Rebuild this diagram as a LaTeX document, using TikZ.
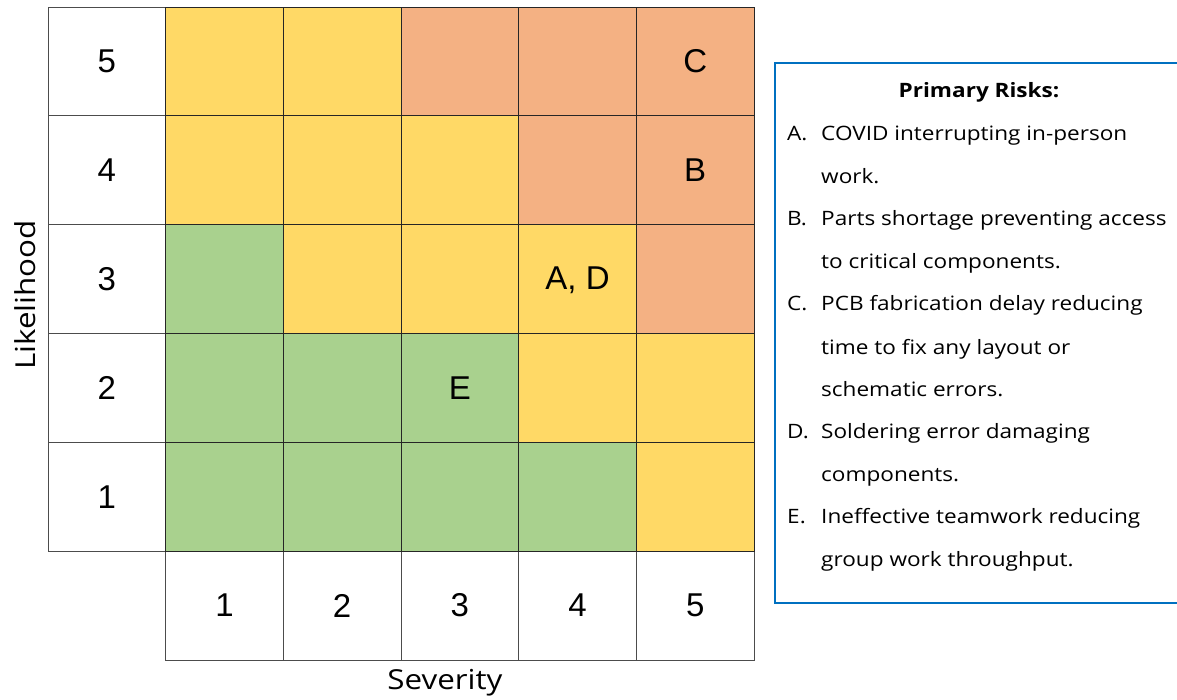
\documentclass[tikz,border=0pt]{standalone}
\usepackage{fontspec}
\setmainfont{Liberation Sans}
\newfontfamily\plex[FakeStretch=1.14]{Open Sans}
\definecolor{ryel}{HTML}{FFD966}
\definecolor{rorg}{HTML}{F4B183}
\definecolor{rgrn}{HTML}{A9D18E}
\definecolor{rblue}{HTML}{0070C0}
\begin{document}
\begin{tikzpicture}[x=1pt,y=-1pt,
  cell/.style={draw=black!85,line width=0.8pt,minimum width=117.67pt,minimum height=108.83pt,inner sep=0pt,font=\fontsize{33}{36}\selectfont},
  hdr/.style={cell,draw=black!70,fill=white},
  yl/.style={cell,fill=ryel},
  og/.style={cell,fill=rorg},
  gr/.style={cell,fill=rgrn},
  axis/.style={font=\plex\fontsize{27.5}{30}\selectfont,inner sep=0pt},
  item/.style={anchor=base west,inner sep=0pt,font=\plex\fontsize{19.8}{22}\selectfont},
]
\useasboundingbox (0,0) rectangle (1177,700);
% likelihood header column
\foreach \r/\lab in {0/5,1/4,2/3,3/2,4/1}{
  \node[hdr] (L\lab) at ({48+58.83},{7+108.83*\r+54.42}) {\lab};
}
% severity header row
\foreach \c in {1,...,5}{
  \node[hdr] (S\c) at ({48+117.67*\c+58.83},{7+108.83*5+54.42}) {\c};
}
% matrix cells
\foreach \c/\s in {1/yl,2/yl,3/og,4/og,5/og}{
  \node[\s] (m5\c) at ({48+117.67*\c+58.83},{7+54.42}) {};}
\foreach \c/\s in {1/yl,2/yl,3/yl,4/og,5/og}{
  \node[\s] (m4\c) at ({48+117.67*\c+58.83},{7+108.83+54.42}) {};}
\foreach \c/\s in {1/gr,2/yl,3/yl,4/yl,5/og}{
  \node[\s] (m3\c) at ({48+117.67*\c+58.83},{7+108.83*2+54.42}) {};}
\foreach \c/\s in {1/gr,2/gr,3/gr,4/yl,5/yl}{
  \node[\s] (m2\c) at ({48+117.67*\c+58.83},{7+108.83*3+54.42}) {};}
\foreach \c/\s in {1/gr,2/gr,3/gr,4/gr,5/yl}{
  \node[\s] (m1\c) at ({48+117.67*\c+58.83},{7+108.83*4+54.42}) {};}
% risk letters
\node[font=\fontsize{33}{36}\selectfont] (tC) at (m55) {C};
\node[font=\fontsize{33}{36}\selectfont] (tB) at (m45) {B};
\node[font=\fontsize{33}{36}\selectfont] (tAD) at ([yshift=-1pt]m34) {A, D};
\node[font=\fontsize{33}{36}\selectfont] (tE) at (m23) {E};
% axis labels
\node[axis,rotate=90] (ylab) at (25,295) {Likelihood};
\node[axis] (xlab) at (445,683) {Severity};
% legend box
\draw[rblue,line width=1.6pt] (1180,63) -- (775,63) -- (775,603) -- (1180,603);
\node[anchor=base,inner sep=0pt,font=\plex\bfseries\fontsize{19.8}{22}\selectfont] (title) at (979,98) {Primary Risks:};
\foreach \y/\l/\t [count=\i] in {
  141/A./COVID interrupting in-person,
  184//work.,
  226/B./Parts shortage preventing access,
  269//to critical components.,
  311/C./PCB fabrication delay reducing,
  354//time to fix any layout or,
  396//schematic errors.,
  438/D./Soldering error damaging,
  481//components.,
  523/E./Ineffective teamwork reducing,
  566//group work throughput.}{
  \node[item] (k\i) at (787,\y) {\l};
  \node[item] (t\i) at (821,\y) {\t};
}
\end{tikzpicture}
\end{document}
